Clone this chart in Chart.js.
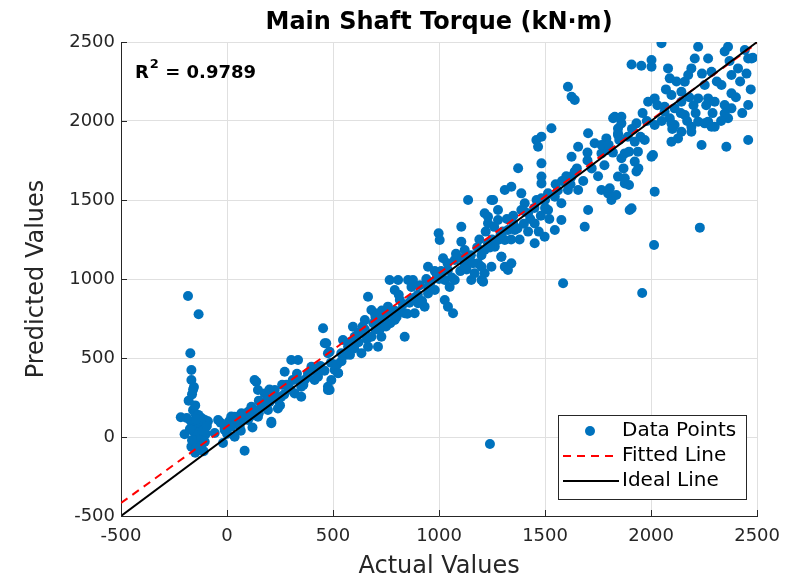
<!DOCTYPE html>
<html lang="en">
<head>
    <meta charset="UTF-8">
    <title>Main Shaft Torque</title>
    <style>
        html, body { margin: 0; padding: 0; background: #fff; }
        #chartBox { width: 790px; height: 578px; }
    </style>
    <script src="https://cdn.jsdelivr.net/npm/chart.js"></script>
</head>
<body>
    <div id="chartBox"><canvas id="torqueChart"></canvas></div>

    <script>
        // values (kN·m)
        const actualValues = [
            -184, -134, -173, -168, -168, -156, -181, -218, -200, -160, -150, -140, -120, -130, -155, -145, -110,
            -160, -130, -150, -120, -140, -160, -130, -150, -110, -170, -100, -140, -168, -120, -104, -90,
            -42, -11, 52, 36, 83, -58, -19, 20, 68, 99, -11, 36, 10, 60, 0,
            138, 115, 146, 178, 209, 241, 272, 303, 335, 319, 366, 398, 429, 453, 468, 484, 492, 162, 193, 225,
            256, 288, 350, 382, 413, 130, 130, 146, 209, 461, 476, 429, 335, 476, 524, 350, 484, 250, 200, 300,
            420, 150, 100, 260,
            508, 524, 539, 571, 594, 634, 634, 665, 681, 697, 712, 728, 712, 767, 807, 791, 815, 854, 877, 759,
            791, 838, 838, 885, 869, 901, 932, 948, 948, 650, 602, 681, 744, 665, 547, 476, 560, 600, 700, 750,
            780, 820, 860, 900, 950, 980, 620, 660, 740, 800,
            998, 1003, 1019, 1027, 1042, 1027, 1042, 1066, 1074, 1105, 1105, 1121, 1137, 1137, 1152, 1184, 1200,
            1215, 1231, 1247, 1263, 1278, 1294, 1310, 1310, 1215, 1168, 1074, 1000, 1050, 1100, 1150, 1200, 1250,
            980, 1120, 1180,
            1530, 1459, 1483, 1467, 1373, 1483, 1483, 1483, 1341, 1255, 1388, 1404, 1483, 1514, 1546, 1577, 1608,
            1656, 1625, 1625, 1656, 1703, 1734, 1766, 1797, 1766, 1797, 1813, 1844, 1876, 1829, 1860, 1844, 1876,
            1703, 1687, 1577, 1546, 1498, 1451, 1451, 1514, 1388, 1278, 1231, 1325, 1310, 1278, 1231, 1215, 1294,
            1341, 1325, 1247, 1200, 1208, 1357, 1420, 1585, 1899, 1240, 1350, 1400, 1420, 1380, 1450, 1500, 1550,
            1600, 1650, 1700, 1300, 1350, 1480,
            1608, 1625, 1640, 1908, 1954, 2002, 2002, 2049, 2080, 2088, 2096, 1986, 2017, 2064, 2111, 2143, 2143,
            2159, 2175, 2190, 2206, 2222, 2269, 2285, 2253, 2222, 2269, 2300, 2332, 2379, 2410, 2347, 2363, 2442,
            2458, 2474, 2379, 2347, 2379, 2458, 2363, 2269, 2300, 2222, 2190, 2143, 2096, 2127, 2111, 2159, 2088,
            2238, 2355, 2458, 2064, 2017, 2009, 2017, 1923, 1938, 1923, 1931, 1896, 1860, 1876, 1896, 1821, 1860,
            1844, 1844, 1931, 1789, 1766, 1805, 1836, 1908, 2230, 2014, 1958, 2002, 2096, 2190, 2253, 2285, 2347,
            2480, 2420, 2200, 2100, 1950, 1980,
            -135, -125, -145, -115, -135, -125, -165, -105, -175, -190, -95, -150, -165, -160, -145,
            40, 80, 110, 120, 170, 190, 220, 240, 270, 280, 310, 330, 360, 380, 400, 440, 460, 490, 20, -30,
            65, 150, 200,
            520, 540, 580, 620, 650, 690, 720, 760, 770, 790, 830, 850, 880, 920, 940, 960, 990, 580, 640, 700,
            730, 810, 870, 910,
            1010, 1040, 1060, 1080, 1110, 1130, 1160, 1190, 1220, 1240, 1260, 1290, 1320, 1340, 1370, 1400, 1430,
            1460, 1470, 1500, 1520,
            1560, 1580, 1620, 1640, 1680, 1700, 1720, 1750, 1780, 1800, 1820, 1850, 1870, 1890, 1910, 1940, 1960,
            1970,
            2030, 2050, 2070, 2120, 2140, 2170, 2180, 2210, 2240, 2260, 2290, 2310, 2330, 2370, 2400, 2430, 2450,
            2470
        ];
        const predictedValues = [
            892, 777, 530, 424, 361, 316, 230, 125, 17, 170, 150, 130, 120, 90, 80, 60, 60,
            40, 30, 0, -10, -40, -60, -80, -100, -90, 100, 20, 10, -61, -50, 108, 100,
            108, 55, 128, 2, -87, 25, -38, 65, 150, 108, 44, 128, 100, 70, 20,
            350, 192, 128, 276, 97, 234, 413, 487, 487, 276, 361, 445, 403, 688, 593, 297, 361, 192, 171, 297,
            255, 318, 318, 403, 361, 171, 361, 297, 87, 593, 318, 382, 361, 297, 403, 255, 540, 200, 220, 300,
            430, 150, 160, 330,
            424, 405, 530, 571, 698, 656, 530, 888, 804, 783, 720, 635, 571, 994, 994, 930, 867, 994, 994, 825,
            741, 635, 783, 783, 867, 846, 825, 909, 1078, 741, 635, 635, 741, 571, 614, 530, 520, 560, 680, 700,
            780, 800, 850, 900, 950, 930, 600, 620, 760, 760,
            1289, 1247, 1131, 994, 1057, 867, 825, 783, 1120, 1331, 1236, 1184, 1500, 1120, 994, 1099, 994,
            1416, 1353, 1500, 1204, 1437, 1141, 1563, 1078, 1036, 1036, 994, 1000, 950, 1050, 1150, 1150, 1250,
            1050, 1080, 1200,
            1954, 1880, 1901, 1837, 1701, 1732, 1648, 1605, 1584, 1500, 1542, 1479, 1511, 1542, 1521, 1479, 1563,
            1563, 1648, 1774, 1837, 1922, 1859, 1795, 1816, 1563, 1542, 1500, 1648, 1605, 2027, 1985, 1922, 1795,
            1437, 1331, 1373, 1310, 1268, 1226, 1352, 1437, 1437, 1373, 1394, 1310, 1247, 1247, 1226, 1184, 1141,
            1099, 1057, 1078, 1078, 983, 1310, 1416, 973, 1437, -44, 1400, 1350, 1300, 1250, 1450, 1500, 1600,
            1650, 1700, 1750, 1300, 1350, 1400,
            2217, 2154, 2133, 2358, 2350, 2344, 2386, 2492, 2333, 2270, 2165, 2122, 2143, 2090, 2080, 2122, 2185,
            2249, 2291, 2333, 2396, 2470, 2396, 2312, 2228, 2143, 2143, 2122, 2228, 2291, 2333, 2440, 2470, 2449,
            2396, 2396, 2175, 2101, 2080, 2101, 2017, 1996, 1964, 1996, 1932, 1932, 1869, 1890, 1975, 2038, 2017,
            1848, 1837, 1880, 2059, 1975, 1785, 1553, 1869, 1806, 1743, 1680, 1806, 1764, 1637, 1595, 2017, 2027,
            1953, 1911, 1985, 1890, 1848, 1574, 1532, 1447, 1325, 1215, 911, 1774, 1985, 1964, 1985, 1964, 2048,
            2400, 2250, 2100, 1950, 1900, 2000,
            140, 100, 110, 40, -20, -60, -20, -30, 50, 120, 70, 200, 270, 300, -70,
            90, 110, 130, 60, 200, 230, 250, 180, 270, 330, 360, 400, 330, 380, 420, 450, 420, 470, 130, 90,
            40, 230, 300,
            460, 480, 600, 660, 680, 720, 680, 780, 720, 800, 840, 780, 880, 860, 1000, 980, 1020, 520, 700, 760,
            800, 900, 950, 960,
            1050, 1100, 1010, 1160, 1130, 1060, 1100, 1250, 1300, 1200, 1330, 1280, 1380, 1250, 1320, 1430, 1380,
            1500, 1300, 1450, 1380,
            1560, 1620, 1600, 1680, 1620, 1800, 1700, 1650, 1720, 1850, 1800, 1880, 1700, 1900, 1950, 1700, 2050,
            1880,
            2100, 2000, 2200, 2250, 2050, 2000, 2150, 2050, 2300, 2100, 2050, 2250, 2000, 2380, 2150, 2050, 2300,
            2200
        ];

        // line end points
        const fitX = [-500, 2500];
        const fitY = [-418, 2492];
        const idealX = [-500, 2500];
        const idealY = [-500, 2500];

        const tickValues = [-500, 0, 500, 1000, 1500, 2000, 2500];
        const chartTitle = 'Main Shaft Torque (kN·m)';
        const r2Text = '0.9789';
        const legendLabels = ['Data Points', 'Fitted Line', 'Ideal Line'];

        const BLUE = '#0072BD';
        const AXIS = '#262626';
        const FONT = '"DejaVu Sans", sans-serif';

        const points = actualValues.map((v, i) => ({ x: v, y: predictedValues[i] }));
        const toXY = (xs, ys) => xs.map((v, i) => ({ x: v, y: ys[i] }));

        // title, R² note, inward ticks and the boxed legend (MATLAB look)
        const decorations = {
            id: 'decorations',
            afterDraw(chart) {
                const { ctx, chartArea: a, scales: { x, y } } = chart;
                ctx.save();

                ctx.strokeStyle = AXIS;
                ctx.lineWidth = 1;
                tickValues.forEach(v => {
                    const px = Math.round(x.getPixelForValue(v)) + 0.5;
                    ctx.beginPath(); ctx.moveTo(px, a.bottom); ctx.lineTo(px, a.bottom - 6); ctx.stroke();
                    const py = Math.round(y.getPixelForValue(v)) + 0.5;
                    ctx.beginPath(); ctx.moveTo(a.left, py); ctx.lineTo(a.left + 6, py); ctx.stroke();
                });

                ctx.fillStyle = '#000';
                ctx.font = 'bold 24px ' + FONT;
                ctx.textAlign = 'center';
                ctx.textBaseline = 'alphabetic';
                ctx.fillText(chartTitle, (a.left + a.right) / 2, 29);

                // R² annotation
                ctx.textAlign = 'left';
                let tx = a.left + 14;
                ctx.font = 'bold 18px ' + FONT;
                ctx.fillText('R', tx, 78);
                tx += ctx.measureText('R').width + 1;
                ctx.font = 'bold 13px ' + FONT;
                ctx.fillText('2', tx, 68);
                tx += ctx.measureText('2').width;
                ctx.font = 'bold 18px ' + FONT;
                ctx.fillText(' = ' + r2Text, tx, 78);

                // legend
                const lx = 558, ly = 415, lw = 188, lh = 84;
                ctx.fillStyle = '#fff';
                ctx.fillRect(lx, ly, lw, lh);
                ctx.strokeStyle = AXIS;
                ctx.strokeRect(lx + 0.5, ly + 0.5, lw, lh);
                const rows = [431, 456, 481];
                ctx.font = '20px ' + FONT;
                ctx.textBaseline = 'middle';
                ctx.fillStyle = '#000';
                legendLabels.forEach((t, i) => ctx.fillText(t, 622, rows[i]));

                ctx.fillStyle = BLUE;
                ctx.beginPath(); ctx.arc(590, rows[0], 5, 0, Math.PI * 2); ctx.fill();

                ctx.lineWidth = 2;
                ctx.strokeStyle = '#ff0000';
                ctx.setLineDash([8, 6]);
                ctx.beginPath(); ctx.moveTo(563, rows[1]); ctx.lineTo(619, rows[1]); ctx.stroke();
                ctx.setLineDash([]);
                ctx.strokeStyle = '#000';
                ctx.beginPath(); ctx.moveTo(563, rows[2]); ctx.lineTo(619, rows[2]); ctx.stroke();

                ctx.restore();
            }
        };

        const axisCommon = {
            type: 'linear',
            min: -500,
            max: 2500,
            grid: { color: '#e0e0e0', drawTicks: false },
            border: { display: true, color: AXIS, width: 1 },
            ticks: {
                stepSize: 500,
                color: AXIS,
                font: { family: FONT, size: 18 },
                padding: 6,
                callback: v => String(v)
            },
            title: {
                display: true,
                color: AXIS,
                font: { family: FONT, size: 24 }
            }
        };

        new Chart(document.getElementById('torqueChart'), {
            type: 'scatter',
            data: {
                datasets: [
                    {
                        label: legendLabels[2],
                        type: 'line',
                        data: toXY(idealX, idealY),
                        borderColor: '#000',
                        borderWidth: 2,
                        pointRadius: 0,
                        order: 1
                    },
                    {
                        label: legendLabels[1],
                        type: 'line',
                        data: toXY(fitX, fitY),
                        borderColor: '#ff0000',
                        borderWidth: 2,
                        borderDash: [8, 6],
                        pointRadius: 0,
                        order: 2
                    },
                    {
                        label: legendLabels[0],
                        data: points,
                        backgroundColor: BLUE,
                        borderColor: BLUE,
                        borderWidth: 0,
                        pointRadius: 5,
                        order: 3
                    }
                ]
            },
            options: {
                responsive: true,
                maintainAspectRatio: false,
                animation: false,
                layout: { padding: { left: 0, right: 32, top: 42, bottom: 0 } },
                plugins: {
                    legend: { display: false },
                    tooltip: { enabled: false }
                },
                scales: {
                    x: {
                        ...axisCommon,
                        position: 'bottom',
                        ticks: { ...axisCommon.ticks, padding: 10 },
                        title: { ...axisCommon.title, text: 'Actual Values', padding: { top: 0, bottom: -3 } },
                        afterFit: s => { s.height = 62; }
                    },
                    y: {
                        ...axisCommon,
                        position: 'left',
                        title: { ...axisCommon.title, text: 'Predicted Values', padding: { top: 22, bottom: 0 } },
                        afterFit: s => { s.width = 121; }
                    }
                }
            },
            plugins: [decorations]
        });
    </script>
</body>
</html>
